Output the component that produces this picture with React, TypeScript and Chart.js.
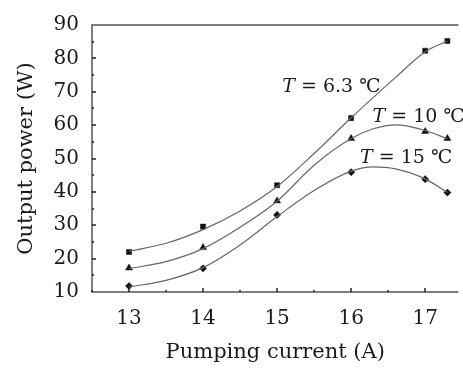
import React, { useEffect, useRef } from 'react';
import { Chart, registerables } from 'chart.js';

Chart.register(...registerables);

// measured points
const currentA = [13, 14, 15, 16, 17, 17.3];
const power63 = [22, 29.6, 42, 62.1, 82.3, 85.2];
const power10 = [17.2, 23.3, 37.3, 56, 58.1, 56];
const power15 = [11.8, 17.1, 33.1, 45.9, 43.8, 39.8];

// fitted curves
const fitX = [13, 13.5, 14, 14.5, 15, 15.5, 16, 16.3, 16.6, 17, 17.3];
const fit63 = [22.2, 24.6, 28.7, 34.3, 41.6, 51.5, 62.2, 68.3, 74.3, 82.0, 85.2];
const fit10 = [17.0, 19.1, 23.0, 29.4, 37.2, 48.0, 56.0, 58.9, 60.1, 58.4, 55.9];
const fit15 = [11.5, 13.5, 17.3, 24.1, 32.6, 40.4, 46.2, 47.5, 46.9, 43.9, 39.8];

const xTicks = [13, 14, 15, 16, 17];
const xMinor = [12.5, 13.5, 14.5, 15.5, 16.5];
const yTicks = [10, 20, 30, 40, 50, 60, 70, 80, 90];
const yMinor = [15, 25, 35, 45, 55, 65, 75, 85];

const labelTexts = ['6.3 ℃', '10 ℃', '15 ℃'];
const labelX = [15.07, 16.29, 16.12];
const labelY = [70.0, 60.8, 48.75];

const FONT = '"DejaVu Serif", "Liberation Serif", serif';
const AXIS = '#555';
const TEXT = '#1a1a1a';

const framePlugin = {
  id: 'frame',
  afterDatasetsDraw(chart: any) {
    const { ctx, chartArea, scales } = chart;
    const { left, right, top, bottom } = chartArea;
    const x = scales.x;
    const y = scales.y;
    ctx.save();
    ctx.strokeStyle = AXIS;
    ctx.lineWidth = 1.5;
    ctx.beginPath();
    ctx.moveTo(right, top);
    ctx.lineTo(left, top);
    ctx.lineTo(left, bottom);
    ctx.lineTo(right, bottom);
    ctx.stroke();
    ctx.strokeStyle = '#222';
    ctx.lineWidth = 1.5;
    ctx.beginPath();
    for (const v of yTicks) {
      const p = Math.round(y.getPixelForValue(v));
      if (v === 10 || v === 90) continue;
      ctx.moveTo(left, p);
      ctx.lineTo(left + 4, p);
    }
    for (const v of yMinor) {
      const p = Math.round(y.getPixelForValue(v));
      ctx.moveTo(left, p);
      ctx.lineTo(left + 2, p);
    }
    for (const v of xTicks) {
      const p = Math.round(x.getPixelForValue(v));
      ctx.moveTo(p, bottom);
      ctx.lineTo(p, bottom - 4);
    }
    for (const v of xMinor) {
      const p = Math.round(x.getPixelForValue(v));
      ctx.moveTo(p, bottom);
      ctx.lineTo(p, bottom - 2);
    }
    ctx.stroke();

    // curve labels
    ctx.fillStyle = TEXT;
    ctx.textBaseline = 'alphabetic';
    ctx.textAlign = 'left';
    labelTexts.forEach((t, i) => {
      let px = x.getPixelForValue(labelX[i]);
      const py = y.getPixelForValue(labelY[i]);
      ctx.font = `italic 19px ${FONT}`;
      ctx.fillText('T', px, py);
      px += ctx.measureText('T').width;
      ctx.font = `19px ${FONT}`;
      ctx.fillText(' = ' + t, px, py);
    });
    ctx.restore();
  },
};

export default function App() {
  const ref = useRef<HTMLCanvasElement>(null);
  useEffect(() => {
    document.body.style.margin = '0';
    const canvas = ref.current!;
    const lineDs = (data: number[]) => ({
      type: 'line' as const,
      data: fitX.map((v, i) => ({ x: v, y: data[i] })),
      borderColor: '#666',
      borderWidth: 1.2,
      pointRadius: 0,
      cubicInterpolationMode: 'monotone' as const,
      fill: false,
    });
    const pointDs = (data: number[], style: string, r: number) => ({
      type: 'scatter' as const,
      data: currentA.map((v, i) => ({ x: v, y: data[i] })),
      pointStyle: style,
      pointRadius: r,
      backgroundColor: '#111',
      borderColor: '#111',
      borderWidth: 0.5,
      showLine: false,
    });
    const chart = new Chart(canvas, {
      type: 'scatter',
      data: {
        datasets: [
          lineDs(fit63),
          lineDs(fit10),
          lineDs(fit15),
          pointDs(power63, 'rect', 3.6),
          pointDs(power10, 'triangle', 4),
          pointDs(power15, 'rectRot', 3.6),
        ] as any,
      },
      options: {
        animation: false,
        responsive: false,
        maintainAspectRatio: false,
        layout: { padding: { top: 16, right: 0, left: 0, bottom: 0 } },
        plugins: { legend: { display: false }, tooltip: { enabled: false } },
        scales: {
          x: {
            type: 'linear',
            min: 12.5,
            max: 17.45,
            afterBuildTicks: (s: any) => {
              s.ticks = xTicks.map((v) => ({ value: v }));
            },
            afterFit: (s: any) => {
              s.height = 76;
            },
            grid: { display: false, drawTicks: false },
            border: { display: false },
            ticks: { padding: 15, color: TEXT, font: { family: FONT, size: 20 } },
            title: {
              display: true,
              text: 'Pumping current (A)',
              color: TEXT,
              font: { family: FONT, size: 21 },
              padding: { top: 3, bottom: 3 },
            },
          },
          y: {
            type: 'linear',
            min: 10,
            max: 90,
            afterBuildTicks: (s: any) => {
              s.ticks = yTicks.map((v) => ({ value: v }));
            },
            afterFit: (s: any) => {
              s.width = 92;
            },
            grid: { display: false, drawTicks: false },
            border: { display: false },
            ticks: { padding: 13, color: TEXT, font: { family: FONT, size: 20 } },
            title: {
              display: true,
              text: 'Output power (W)',
              color: TEXT,
              font: { family: FONT, size: 21 },
              padding: { top: 14, bottom: 0 },
            },
          },
        },
      },
      plugins: [framePlugin],
    });
    return () => chart.destroy();
  }, []);
  return <canvas ref={ref} width={463} height={368} style={{ display: 'block' }} />;
}
